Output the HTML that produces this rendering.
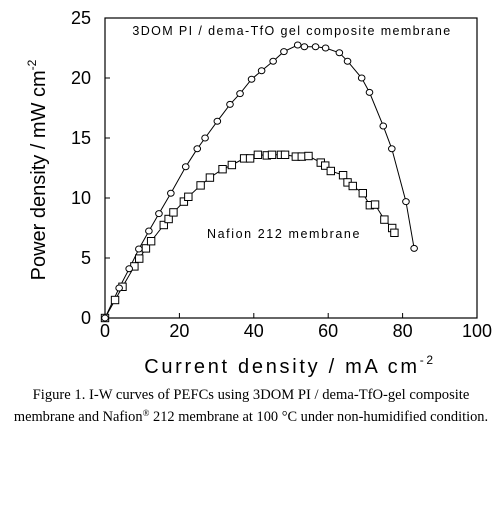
<!DOCTYPE html>
<html><head><meta charset="utf-8"><style>
body{margin:0;background:#fff;width:504px;height:505px;overflow:hidden}
svg text{font-family:"Liberation Sans",sans-serif;fill:#000}
</style></head><body>
<svg id="chart" width="504" height="505" viewBox="0 0 504 505" xmlns="http://www.w3.org/2000/svg">
<rect x="105" y="18" width="372" height="300" fill="none" stroke="#000" stroke-width="1.2"/>
<g id="ticks"></g>
<g id="series"></g>
<text x="292" y="35" font-size="12.5" letter-spacing="1.4" text-anchor="middle">3DOM PI / dema-TfO gel composite membrane</text>
<text x="284" y="238" font-size="12.5" letter-spacing="1.6" text-anchor="middle">Nafion 212 membrane</text>
<text x="290" y="373" font-size="20" letter-spacing="2.7" text-anchor="middle">Current density / mA cm<tspan dy="-9" font-size="12">-2</tspan></text>
<text transform="translate(45,170) rotate(-90)" font-size="20" text-anchor="middle">Power density / mW cm<tspan dy="-9" font-size="12">-2</tspan></text>
<text x="251" y="399" font-size="14.6" text-anchor="middle" style="font-family:'Liberation Serif',serif">Figure 1. I-W curves of PEFCs using 3DOM PI / dema-TfO-gel composite</text>
<text x="251" y="421" font-size="14.4" text-anchor="middle" style="font-family:'Liberation Serif',serif">membrane and Nafion<tspan dy="-5" font-size="9">®</tspan><tspan dy="5"> 212 membrane at 100 °C under non-humidified  condition.</tspan></text>
</svg>
<script>
const xTicks=[0,20,40,60,80,100];
const yTicks=[0,5,10,15,20,25];
const compX=[0,3.8,6.5,9.1,11.8,14.5,17.7,21.7,24.8,26.9,30.2,33.6,36.3,39.4,42.1,45.2,48.1,51.8,53.6,56.6,59.3,63.0,65.2,69.0,71.1,74.8,77.1,80.9,83.1];
const compY=[0,2.5,4.1,5.75,7.25,8.7,10.4,12.6,14.1,15.0,16.4,17.8,18.7,19.9,20.6,21.4,22.2,22.75,22.6,22.6,22.5,22.1,21.4,20.0,18.8,16.0,14.1,9.7,5.8];
const nafX=[0,2.7,4.7,7.9,9.2,11.0,12.4,15.8,17.1,18.4,21.2,22.4,25.7,28.2,31.6,34.1,37.4,39.0,41.1,43.5,44.9,47.3,48.4,51.3,52.9,54.7,58.0,59.2,60.7,64.0,65.2,66.6,69.3,71.2,72.6,75.1,77.2,77.8];
const nafY=[0,1.5,2.6,4.3,4.95,5.8,6.4,7.75,8.25,8.8,9.7,10.1,11.05,11.7,12.4,12.75,13.3,13.3,13.6,13.55,13.6,13.6,13.6,13.45,13.45,13.5,12.95,12.7,12.25,11.9,11.3,11.0,10.4,9.4,9.45,8.2,7.5,7.1];
const NS='http://www.w3.org/2000/svg';
const sx=v=>105+v*3.72, sy=v=>318-v*12;
const T=document.getElementById('ticks'), S=document.getElementById('series');
function mk(tag,at,par){const e=document.createElementNS(NS,tag);for(const k in at)e.setAttribute(k,at[k]);par.appendChild(e);return e;}
xTicks.forEach(v=>{
 const t=mk('line',{x1:sx(v),x2:sx(v),y1:318,y2:313,stroke:'#000'},T);
 
 
 const l=mk('text',{x:sx(v),y:337,'font-size':18,'text-anchor':'middle'},T);l.textContent=v;
 
 
});
yTicks.forEach(v=>{
 const t=mk('line',{x1:105,x2:110,y1:sy(v),y2:sy(v),stroke:'#000'},T);
 
 
 const l=mk('text',{x:91,y:sy(v)+6,'font-size':18,'text-anchor':'end'},T);l.textContent=v;
 
 
});
function line(xs,ys,name){
 const p=mk('polyline',{points:xs.map((x,i)=>sx(x)+','+sy(ys[i])).join(' '),fill:'none',stroke:'#000','stroke-width':1},S);
 
 
}
line(nafX,nafY,'nafion-line');
line(compX,compY,'composite-line');
nafX.forEach((x,i)=>{
 const r=mk('rect',{x:sx(x)-3.7,y:sy(nafY[i])-3.7,width:7.4,height:7.4,fill:'#fff',stroke:'#000','stroke-width':1},S);
 
 
});
compX.forEach((x,i)=>{
 const c=mk('ellipse',{cx:sx(x),cy:sy(compY[i]),rx:3.3,ry:3,fill:'#fff',stroke:'#000','stroke-width':1},S);
 
 
});
</script>
</body></html>
